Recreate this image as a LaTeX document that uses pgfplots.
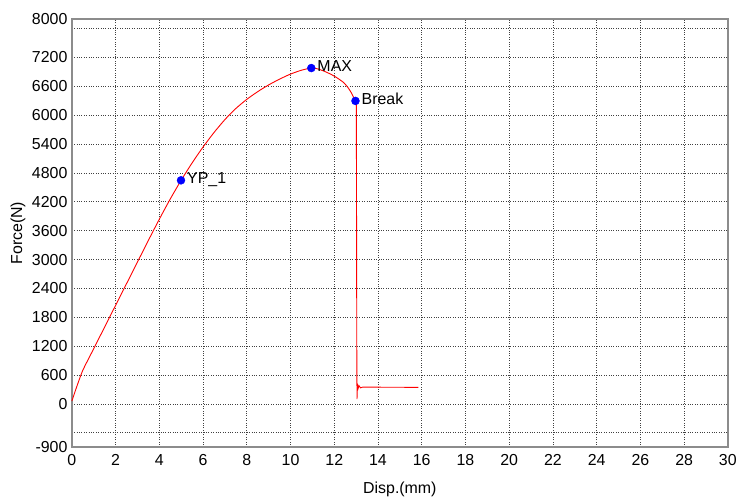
\documentclass[border=0pt]{standalone}
\usepackage{pgfplots}
\pgfplotsset{compat=1.18}
\usepackage{fontspec}
\setmainfont{Liberation Sans}
\begin{document}
\begin{tikzpicture}[font=\fontsize{16}{19}\selectfont]
\begin{axis}[
  scale only axis,
  width=657bp, height=429bp,
  xmin=0, xmax=30, ymin=-900, ymax=8000,
  xtick={0,2,...,30},
  ytick={-900,-600,0,600,1200,1800,2400,3000,3600,4200,4800,5400,6000,6600,7200,7800,8000},
  yticklabels={-900,,0,600,1200,1800,2400,3000,3600,4200,4800,5400,6000,6600,7200,,8000},
  /pgf/number format/assume math mode=true,
  major tick length=0pt,
  grid=major,
  major grid style={black!75, line width=0.7bp, dash pattern=on 0.8bp off 1.6bp},
  axis line style={draw=black!45, line width=1.6bp},
  xticklabel style={yshift=-4bp},
  yticklabel style={xshift=-1bp},
  xlabel={Disp.(mm)},
  ylabel={Force(N)},
  xlabel style={at={(axis description cs:0.5,-0.098)}, anchor=center},
  ylabel style={at={(axis description cs:-0.082,0.5)}, anchor=center},
  clip=false,
]
\addplot[red, line width=0.9bp, no markers, smooth, tension=0.4] coordinates {
(0,60) (0.2,330) (0.5,700) (1,1150) (1.5,1600) (2,2050) (2.5,2500) (3,2950)
(3.5,3400) (4,3840) (4.5,4260) (5,4650) (5.5,5010) (6,5340) (6.5,5640)
(7,5910) (7.5,6140) (8,6330) (8.5,6490) (9,6630) (9.5,6750) (10,6855)
(10.5,6935) (10.95,6980) (11.25,6962) (11.55,6912) (11.85,6850) (12.15,6770)
(12.45,6670) (12.65,6560) (12.8,6450) (12.9,6355) (12.97,6297)
};
\addplot[red, line width=0.9bp, no markers] coordinates {
(12.97,6297) (13.01,6250)
(13.03,1200) (13.04,100) (13.06,420) (13.09,320) (13.13,380) (13.2,335)
(13.3,350) (15.85,345)
};
\addplot[only marks, mark=*, mark size=4bp, mark options={fill=blue, draw=blue},
  point meta=explicit symbolic, nodes near coords,
  nodes near coords style={anchor=base west, inner sep=0pt, xshift=6bp, yshift=-0.36em, text=black}]
  table[meta=label] {
x y label
4.99 4647 YP\_1
10.95 6980 MAX
12.97 6297 Break
};
\end{axis}
\path (current axis.south west) ++(-72bp,-51bp);
\path (current axis.north east) ++(11bp,19bp);
\end{tikzpicture}
\end{document}
